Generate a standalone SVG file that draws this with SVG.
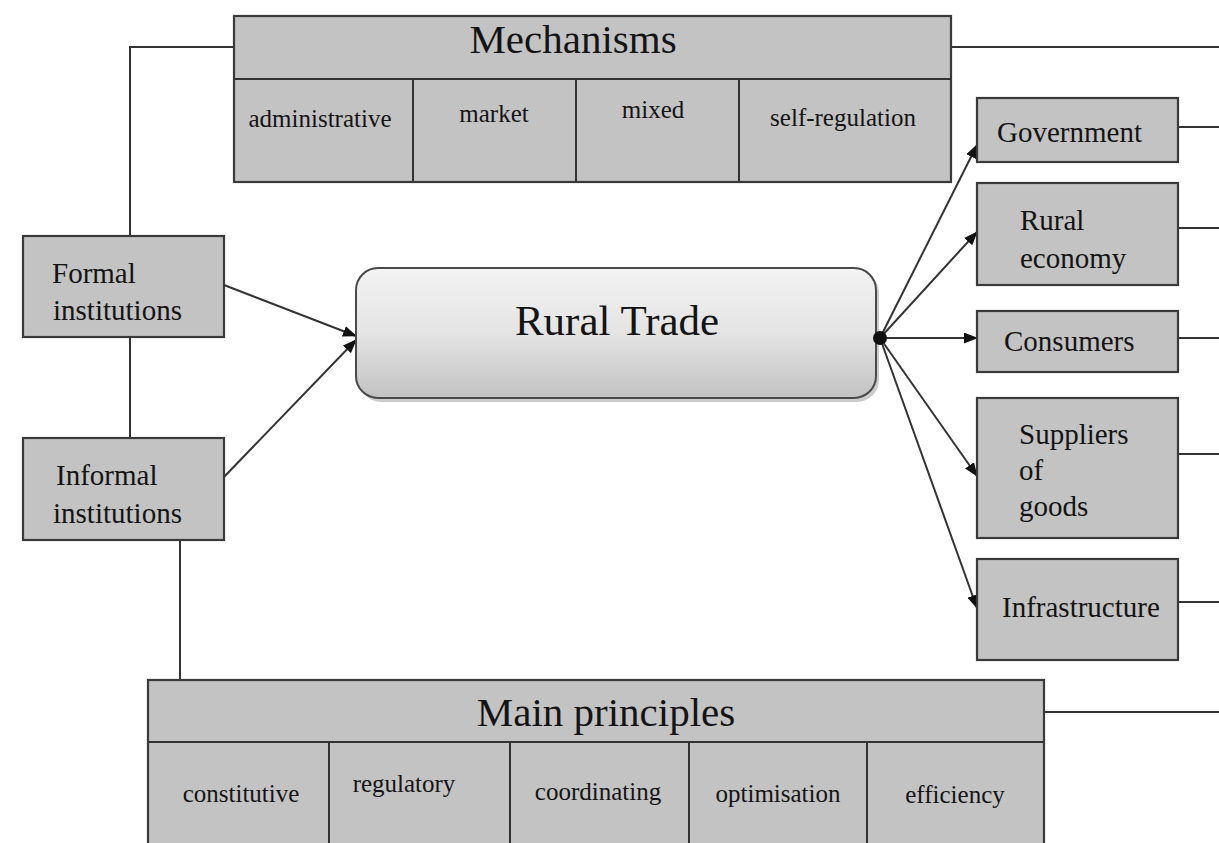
<svg xmlns="http://www.w3.org/2000/svg" width="1219" height="843" viewBox="0 0 1219 843">
<defs>
<style>
.box{fill:#c3c3c3;stroke:#3a3a3a;stroke-width:2.2}
.ln{fill:none;stroke:#333;stroke-width:2}
.t{font-family:"Liberation Serif","Times New Roman",serif;fill:#141414}
.title{font-size:41px;text-anchor:middle}
.sub{font-size:25px;text-anchor:middle}
.lbl{font-size:29px}
</style>
<marker id="ah" viewBox="0 0 14 11" refX="13" refY="5.5" markerWidth="14" markerHeight="11" markerUnits="userSpaceOnUse" orient="auto">
<path d="M0,0 L14,5.5 L0,11 Z" fill="#111"/>
</marker>
<linearGradient id="rg" x1="0" y1="0" x2="0" y2="1">
<stop offset="0" stop-color="#f3f3f3"/>
<stop offset="0.5" stop-color="#e4e4e4"/>
<stop offset="1" stop-color="#c2c2c2"/>
</linearGradient>
</defs>
<rect width="1219" height="843" fill="#ffffff"/>

<g id="connectors">
<polyline class="ln" points="234,47 130,47 130,236"/>
<line class="ln" x1="951" y1="47" x2="1219" y2="47"/>
<line class="ln" x1="130" y1="337" x2="130" y2="438"/>
<line class="ln" x1="180" y1="540" x2="180" y2="680"/>
<line class="ln" x1="1044" y1="712" x2="1219" y2="712"/>
<line class="ln" x1="1178" y1="127" x2="1219" y2="127"/>
<line class="ln" x1="1178" y1="228" x2="1219" y2="228"/>
<line class="ln" x1="1178" y1="338" x2="1219" y2="338"/>
<line class="ln" x1="1178" y1="454" x2="1219" y2="454"/>
<line class="ln" x1="1178" y1="602" x2="1219" y2="602"/>
<line class="ln" x1="224" y1="285" x2="356" y2="336" marker-end="url(#ah)"/>
<line class="ln" x1="224" y1="477" x2="356" y2="340" marker-end="url(#ah)"/>
<line class="ln" x1="880" y1="338" x2="977" y2="145" marker-end="url(#ah)"/>
<line class="ln" x1="880" y1="338" x2="977" y2="232" marker-end="url(#ah)"/>
<line class="ln" x1="880" y1="338" x2="977" y2="338" marker-end="url(#ah)"/>
<line class="ln" x1="880" y1="338" x2="977" y2="476" marker-end="url(#ah)"/>
<line class="ln" x1="880" y1="338" x2="977" y2="608" marker-end="url(#ah)"/>
</g>

<g id="mechanisms">
<rect class="box" x="234" y="16" width="717" height="166"/>
<line class="ln" x1="234" y1="79" x2="951" y2="79"/>
<line class="ln" x1="413" y1="79" x2="413" y2="182"/>
<line class="ln" x1="576" y1="79" x2="576" y2="182"/>
<line class="ln" x1="739" y1="79" x2="739" y2="182"/>
<text class="t title" x="573" y="53">Mechanisms</text>
<text class="t sub" x="320" y="127">administrative</text>
<text class="t sub" x="494" y="122">market</text>
<text class="t sub" x="653" y="118">mixed</text>
<text class="t sub" x="843" y="126">self-regulation</text>
</g>

<g id="formal">
<rect class="box" x="23" y="236" width="201" height="101"/>
<text class="t lbl" x="52" y="283">Formal</text>
<text class="t lbl" x="53" y="320">institutions</text>
</g>

<g id="informal">
<rect class="box" x="23" y="438" width="201" height="102"/>
<text class="t lbl" x="56" y="485">Informal</text>
<text class="t lbl" x="53" y="523">institutions</text>
</g>

<g id="rural-trade">
<rect x="359" y="271" width="520" height="131" rx="22" fill="#9a9a9a" opacity="0.5"/>
<rect x="356" y="268" width="520" height="130" rx="22" fill="url(#rg)" stroke="#4a4a4a" stroke-width="2"/>
<text class="t" x="617" y="335" font-size="43" text-anchor="middle">Rural Trade</text>
<circle cx="880" cy="338" r="7" fill="#111"/>
</g>

<g id="government">
<rect class="box" x="977" y="98" width="201" height="64"/>
<text class="t lbl" x="997" y="142">Government</text>
</g>

<g id="rural-economy">
<rect class="box" x="977" y="183" width="201" height="102"/>
<text class="t lbl" x="1020" y="230">Rural</text>
<text class="t lbl" x="1020" y="268">economy</text>
</g>

<g id="consumers">
<rect class="box" x="977" y="311" width="201" height="61"/>
<text class="t lbl" x="1004" y="351">Consumers</text>
</g>

<g id="suppliers">
<rect class="box" x="977" y="398" width="201" height="140"/>
<text class="t lbl" x="1019" y="444">Suppliers</text>
<text class="t lbl" x="1019" y="480">of</text>
<text class="t lbl" x="1019" y="516">goods</text>
</g>

<g id="infrastructure">
<rect class="box" x="977" y="559" width="201" height="101"/>
<text class="t lbl" x="1002" y="617">Infrastructure</text>
</g>

<g id="main-principles">
<rect class="box" x="148" y="680" width="896" height="170"/>
<line class="ln" x1="148" y1="742" x2="1044" y2="742"/>
<line class="ln" x1="329" y1="742" x2="329" y2="843"/>
<line class="ln" x1="510" y1="742" x2="510" y2="843"/>
<line class="ln" x1="689" y1="742" x2="689" y2="843"/>
<line class="ln" x1="867" y1="742" x2="867" y2="843"/>
<text class="t title" x="606" y="726">Main principles</text>
<text class="t sub" x="241" y="802">constitutive</text>
<text class="t sub" x="404" y="792">regulatory</text>
<text class="t sub" x="598" y="800">coordinating</text>
<text class="t sub" x="778" y="802">optimisation</text>
<text class="t sub" x="955" y="803">efficiency</text>
</g>
</svg>
